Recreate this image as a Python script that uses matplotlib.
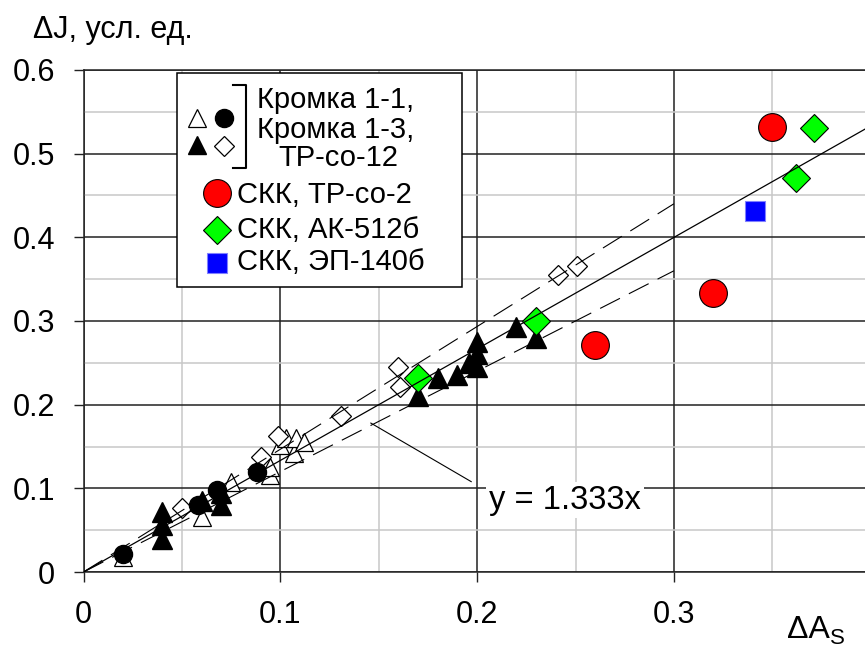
import numpy as np
import matplotlib.pyplot as plt
from matplotlib.lines import Line2D
from matplotlib.patches import Rectangle
from matplotlib.ticker import MultipleLocator, FixedLocator

plt.rcParams['font.family'] = ['Liberation Sans', 'DejaVu Sans']

# --- data ---
# Кромка 1-1 (open triangles / black circles)
open_tri_x = [0.02, 0.06, 0.075, 0.095, 0.095, 0.100, 0.103, 0.107, 0.108, 0.112]
open_tri_y = [0.018, 0.066, 0.108, 0.116, 0.126, 0.152, 0.160, 0.142, 0.160, 0.155]
black_circ_x = [0.020, 0.058, 0.068, 0.088]
black_circ_y = [0.022, 0.080, 0.098, 0.120]
# Кромка 1-3, ТР-со-12 (black triangles / open diamonds)
black_tri_x = [0.04, 0.04, 0.04, 0.06, 0.07, 0.07, 0.17, 0.18, 0.19, 0.196, 0.20, 0.20, 0.20, 0.22, 0.23]
black_tri_y = [0.040, 0.056, 0.072, 0.085, 0.080, 0.095, 0.210, 0.232, 0.235, 0.250, 0.245, 0.260, 0.275, 0.293, 0.280]
open_dia_x = [0.05, 0.09, 0.099, 0.131, 0.160, 0.161, 0.241, 0.251]
open_dia_y = [0.077, 0.137, 0.163, 0.187, 0.245, 0.221, 0.355, 0.366]
# СКК samples
red_x = [0.26, 0.32, 0.35]
red_y = [0.271, 0.333, 0.532]
green_x = [0.17, 0.23, 0.362, 0.371]
green_y = [0.232, 0.300, 0.471, 0.531]
blue_x = [0.341]
blue_y = [0.431]

fit_slope = 1.333
band_slopes = [1.467, 1.2]
band_xmax = 0.3
pointer_x = [0.146, 0.197]
pointer_y = [0.178, 0.108]
x_ticks = [0, 0.1, 0.2, 0.3]

W, H = 865, 648
fig = plt.figure(figsize=(W / 100, H / 100), dpi=100)

# axes placed in pixel terms of the original
px0, px1 = 83.5, 870.7
py0, py1 = 572, 70
ax = fig.add_axes([px0 / W, (H - py0) / H, (px1 - px0) / W, (py0 - py1) / H])
ax.set_xlim(0, 0.4)
ax.set_ylim(0, 0.6)

ax.xaxis.set_major_locator(FixedLocator(x_ticks))
ax.yaxis.set_major_locator(MultipleLocator(0.1))
ax.xaxis.set_minor_locator(MultipleLocator(0.05))
ax.yaxis.set_minor_locator(MultipleLocator(0.05))
ax.grid(which='major', color='#222222', lw=1.1, zorder=0)
ax.grid(which='minor', color='#c8c8c8', lw=1.1, zorder=0)
ax.set_axisbelow(True)
fmt = plt.FuncFormatter(lambda v, p: '0' if v == 0 else f'{v:.1f}')
ax.xaxis.set_major_formatter(fmt)
ax.yaxis.set_major_formatter(fmt)

ax.tick_params(which='major', direction='out', length=7.5, width=1, color='#222222',
               labelsize=22, pad=13)
ax.tick_params(which='minor', length=0)
for s in ['left', 'bottom', 'top']:
    ax.spines[s].set_color('#222222')
    ax.spines[s].set_linewidth(1.1)
ax.spines['right'].set_visible(False)

# points
ax.plot(open_tri_x, open_tri_y, '^', ms=13, mfc='white', mec='black', mew=0.9, ls='none', zorder=3)
ax.plot(open_dia_x, open_dia_y, 'D', ms=10, mfc='white', mec='black', mew=0.9, ls='none', zorder=3)
ax.plot(black_circ_x, black_circ_y, 'o', ms=13, mfc='black', mec='black', ls='none', zorder=3)
ax.plot(black_tri_x, black_tri_y, '^', ms=14, mfc='black', mec='black', ls='none', zorder=3)
ax.plot(green_x, green_y, 'D', ms=14.5, mfc='#00ff00', mec='black', mew=0.8, ls='none', zorder=3)
ax.plot(red_x, red_y, 'o', ms=20, mfc='#ff0000', mec='black', mew=0.8, ls='none', zorder=3)
ax.plot(blue_x, blue_y, 's', ms=15, mfc='#0000ff', mec='#8080ff', mew=0.8, ls='none', zorder=3)

# fitted line and band
xs = np.array([0, 0.4])
ax.plot(xs, fit_slope * xs, color='black', lw=0.9, zorder=5)
xb = np.array([0, band_xmax])
for k in band_slopes:
    ax.plot(xb, k * xb, color='black', lw=0.8, ls=(0, (20, 9)), zorder=5)
ax.plot(pointer_x, pointer_y, color='black', lw=0.8, zorder=5)
ax.text(0.206, 0.086, 'y = 1.333x', fontsize=23.5, va='center', ha='left', zorder=6,
        bbox=dict(fc='white', ec='none', pad=2))


def fp(x, y):
    return x / W, 1 - y / H


# axis titles
fig.text(*fp(33, 30), 'ΔJ, усл. ед.', fontsize=22, va='center', ha='left')
fig.text(*fp(787, 630), 'ΔA', fontsize=23, va='center', ha='left')
fig.text(*fp(830, 639), 'S', fontsize=16, va='center', ha='left')

# hand-made legend
lx, ly = fp(177, 287)
fig.add_artist(Rectangle((lx, ly), (462 - 177) / W, (287 - 73) / H, transform=fig.transFigure,
                         fc='white', ec='black', lw=1.1, zorder=2))


def leg_marker(x, y, **kw):
    a, b = fp(x, y)
    fig.add_artist(Line2D([a], [b], transform=fig.transFigure, ls='none', zorder=3, **kw))


leg_marker(197, 118, marker='^', ms=13, mfc='white', mec='black', mew=0.9)
leg_marker(224, 118, marker='o', ms=13, mfc='black', mec='black')
leg_marker(197, 145, marker='^', ms=13, mfc='black', mec='black')
leg_marker(224, 146, marker='D', ms=10, mfc='white', mec='black', mew=0.9)
leg_marker(217, 193, marker='o', ms=20, mfc='#ff0000', mec='black', mew=0.8)
leg_marker(217, 230, marker='D', ms=14.5, mfc='#00ff00', mec='black', mew=0.8)
leg_marker(217, 263, marker='s', ms=15, mfc='#0000ff', mec='#8080ff', mew=0.8)

bx = [233, 246, 246, 233]
by = [85, 85, 168, 168]
fig.add_artist(Line2D([x / W for x in bx], [1 - y / H for y in by], transform=fig.transFigure,
                      color='black', lw=1.5, zorder=3))

for (x, y), s in [((257, 100), 'Кромка 1-1,'), ((257, 130), 'Кромка 1-3,'), ((278, 158), 'ТР-со-12'),
                  ((237, 195), 'СКК, ТР-со-2'), ((237, 230), 'СКК, АК-512б'), ((237, 262), 'СКК, ЭП-140б')]:
    t = fig.text(*fp(x, y), s, fontsize=21, va='center', ha='left')
    t.set_zorder(4)

fig.savefig('out.png', dpi=100)
